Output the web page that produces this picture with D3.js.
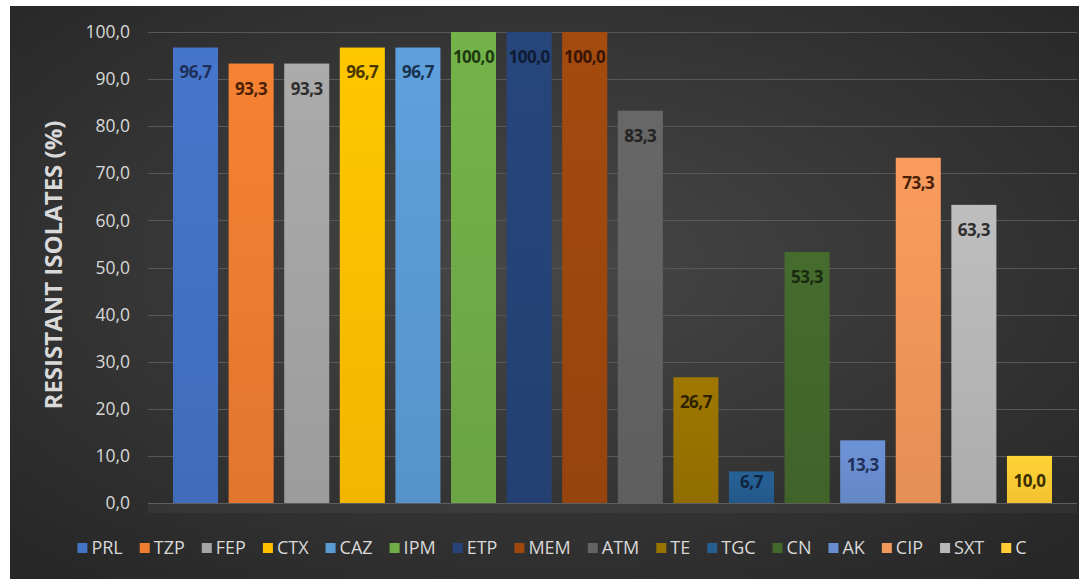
<!DOCTYPE html>
<html><head><meta charset="utf-8">
<script src="https://cdn.jsdelivr.net/npm/d3@7/dist/d3.min.js"></script>
<style>html,body{margin:0;padding:0;background:#fff;}svg{display:block;}</style>
</head><body>
<svg id="c" width="1079" height="579"></svg>
<script>
const categories = ["PRL","TZP","FEP","CTX","CAZ","IPM","ETP","MEM","ATM","TE","TGC","CN","AK","CIP","SXT","C"];
const values = [96.7,93.3,93.3,96.7,96.7,100.0,100.0,100.0,83.3,26.7,6.7,53.3,13.3,73.3,63.3,10.0];
const barColors = ["#4472C4","#ED7D31","#A5A5A5","#FFC000","#5B9BD5","#70AD47","#264478","#9E480E","#636363","#997300","#255E91","#43682B","#698ED0","#F1975A","#B7B7B7","#FFCD33"];
const labelColors = ["#1F2F5A","#4A1F05","#2E2E2E","#4A3800","#1A3350","#1E3A10","#0E1C36","#3A1504","#222222","#2E2200","#0E2440","#1A2A10","#1F2F5A","#4A1F05","#2E2E2E","#3A2E00"];
const yTicks = [0,10,20,30,40,50,60,70,80,90,100];
const yTitle = "RESISTANT ISOLATES (%)";

const svg = d3.select("#c");
const W = 1079, H = 579;
const defs = svg.append("defs");
const rg = defs.append("radialGradient").attr("id","bg").attr("cx","50%").attr("cy","45%").attr("r","70%");
rg.append("stop").attr("offset","0%").attr("stop-color","#474747");
rg.append("stop").attr("offset","100%").attr("stop-color","#272727");
svg.append("rect").attr("x",10).attr("y",6).attr("width",W-10).attr("height",H-6).attr("fill","url(#bg)");

const x = d3.scaleBand().domain(categories).range([148,1077]).paddingInner(0.19).paddingOuter(0.45);
const y = d3.scaleLinear().domain([0,100]).range([503,32]);

// gridlines
svg.append("g").selectAll("line").data(yTicks).join("line")
  .attr("x1",148).attr("x2",1077)
  .attr("y1",d=>Math.round(y(d))+0.5).attr("y2",d=>Math.round(y(d))+0.5)
  .attr("stroke","#585858").attr("stroke-width",1);

// floor shade
svg.append("rect").attr("x",148).attr("y",y(0)).attr("width",929).attr("height",10).attr("fill","#ffffff").attr("opacity",0.04);

// y axis labels
const fmt = d => d.toFixed(1).replace(".",",");
svg.append("g").selectAll("text").data(yTicks).join("text")
  .attr("x",130).attr("y",d=>y(d)).attr("dy","0.35em")
  .attr("text-anchor","end").attr("fill","#D9D9D9")
  .style("font-family","'Open Sans', Lato, sans-serif").style("font-size","17.5px")
  .text(fmt);

// bars with subtle gradient
categories.forEach((c,i)=>{
  const g = defs.append("linearGradient").attr("id","g"+i).attr("x1",0).attr("x2",0).attr("y1",0).attr("y2",1);
  g.append("stop").attr("offset","0%").attr("stop-color",d3.color(barColors[i]).brighter(0.1));
  g.append("stop").attr("offset","100%").attr("stop-color",d3.color(barColors[i]).darker(0.15));
});
svg.append("g").selectAll("rect").data(values).join("rect")
  .attr("x",(d,i)=>x(categories[i])).attr("width",x.bandwidth())
  .attr("y",d=>y(d)).attr("height",d=>y(0)-y(d))
  .attr("fill",(d,i)=>`url(#g${i})`);

// value labels
svg.append("g").selectAll("text").data(values).join("text")
  .attr("x",(d,i)=>x(categories[i])+x.bandwidth()/2)
  .attr("y",d=>Math.min(y(d)+25, y(0)-21)).attr("dy","0.35em")
  .attr("text-anchor","middle").attr("fill",(d,i)=>labelColors[i])
  .style("font-family","'Open Sans', Lato, sans-serif").style("font-weight","bold").style("font-size","17px")
  .style("letter-spacing","-0.5px")
  .text(fmt);

// y title
svg.append("text").attr("transform","translate(62,265) rotate(-90)")
  .attr("text-anchor","middle").attr("fill","#D9D9D9")
  .style("font-family","'Open Sans', Lato, sans-serif").style("font-weight","bold").style("font-size","24px")
  .text(yTitle);

// legend
const lg = svg.append("g");
const items = lg.selectAll("g").data(categories).join("g");
items.append("rect").attr("width",10).attr("height",10).attr("y",-5).attr("fill",(d,i)=>barColors[i]);
items.append("text").attr("x",14).attr("dy","0.35em").attr("fill","#D9D9D9")
  .style("font-family","'Open Sans', Lato, sans-serif").style("font-size","18px").text(d=>d);
const gap = 17;
let cx = 0; const pos = [];
items.each(function(){ const w = 14 + this.querySelector("text").getComputedTextLength(); pos.push(cx); cx += w + gap; });
const totalW = cx - gap;
const startX = (79 + 1025)/2 - totalW/2;
items.attr("transform",(d,i)=>`translate(${startX+pos[i]},548)`);
</script>
</body></html>
